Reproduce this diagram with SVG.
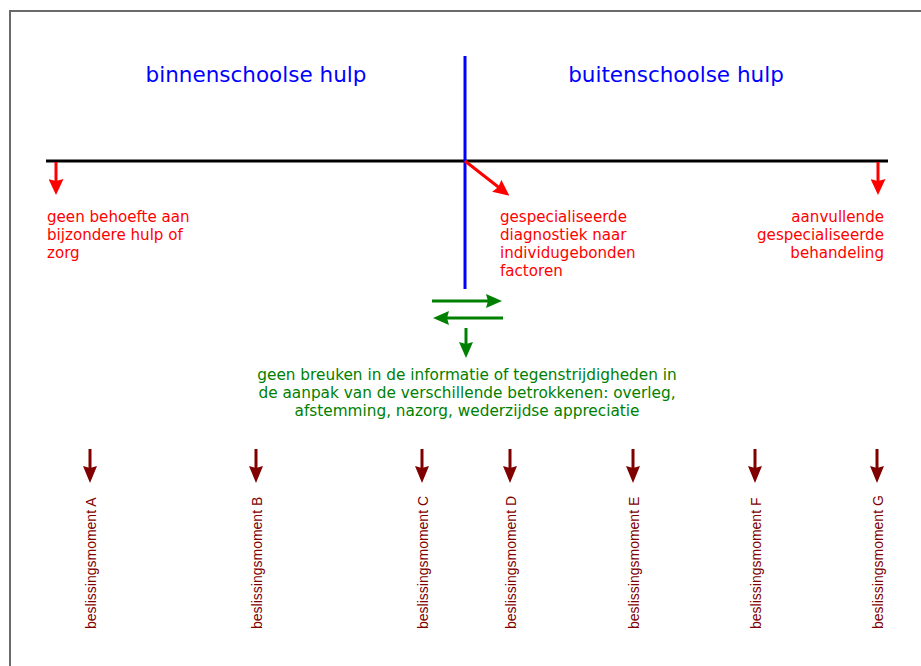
<svg xmlns="http://www.w3.org/2000/svg" width="921" height="666" viewBox="0 0 921 666">
<defs>
<style>
.title{font-family:"DejaVu Sans",Verdana,sans-serif;font-size:21.5px;fill:#0000ff;text-anchor:middle}
.red{font-family:"DejaVu Sans",Verdana,sans-serif;font-size:15.1px;fill:#ff0000}
.green{font-family:"DejaVu Sans",Verdana,sans-serif;font-size:15.3px;fill:#008000;text-anchor:middle}
.bm{font-family:"Liberation Sans",Arial,sans-serif;font-size:14px;fill:#800000}
.lr{stroke:#ff0000;stroke-width:3;fill:none}
.lg{stroke:#008000;stroke-width:3;fill:none}
.ld{stroke:#800000;stroke-width:3;fill:none}
</style>
<marker id="ar" viewBox="0 0 16 15" refX="6" refY="7.5" markerWidth="16" markerHeight="15" markerUnits="userSpaceOnUse" orient="auto"><path d="M0,0 L16,7.5 L0,15 L2,7.5 Z" fill="#ff0000"/></marker>
<marker id="ag" viewBox="0 0 16 14" refX="6" refY="7" markerWidth="16" markerHeight="14" markerUnits="userSpaceOnUse" orient="auto"><path d="M0,0 L16,7 L0,14 L2,7 Z" fill="#008000"/></marker>
<marker id="ad" viewBox="0 0 17 14" refX="7" refY="7" markerWidth="17" markerHeight="14" markerUnits="userSpaceOnUse" orient="auto"><path d="M0,0 L17,7 L0,14 L2,7 Z" fill="#800000"/></marker>
</defs>
<rect x="10" y="11" width="1000" height="1000" fill="#ffffff" stroke="#6a6a6a" stroke-width="2"/>
<g id="axes">
<line x1="46" y1="161" x2="888" y2="161" stroke="#000000" stroke-width="3"/>
<line x1="465" y1="56" x2="465" y2="289" stroke="#0000ff" stroke-width="3"/>
</g>
<g id="title-binnen"><text class="title" x="256" y="82">binnenschoolse hulp</text></g>
<g id="title-buiten"><text class="title" x="676" y="82">buitenschoolse hulp</text></g>
<g id="connectors">
<line class="lr" x1="56" y1="162" x2="56" y2="185" marker-end="url(#ar)"/>
<line class="lr" x1="465" y1="161" x2="501.5" y2="189.5" marker-end="url(#ar)"/>
<line class="lr" x1="878" y1="162" x2="878" y2="185" marker-end="url(#ar)"/>
<line class="lg" x1="432" y1="301" x2="492" y2="301" marker-end="url(#ag)"/>
<line class="lg" x1="503" y1="318" x2="443" y2="318" marker-end="url(#ag)"/>
<line class="lg" x1="466" y1="328" x2="466" y2="348" marker-end="url(#ag)"/>
<line class="ld" x1="90" y1="449" x2="90" y2="473" marker-end="url(#ad)"/>
<line class="ld" x1="256" y1="449" x2="256" y2="473" marker-end="url(#ad)"/>
<line class="ld" x1="422" y1="449" x2="422" y2="473" marker-end="url(#ad)"/>
<line class="ld" x1="510" y1="449" x2="510" y2="473" marker-end="url(#ad)"/>
<line class="ld" x1="633" y1="449" x2="633" y2="473" marker-end="url(#ad)"/>
<line class="ld" x1="755" y1="449" x2="755" y2="473" marker-end="url(#ad)"/>
<line class="ld" x1="877" y1="449" x2="877" y2="473" marker-end="url(#ad)"/>
</g>
<g id="geen-behoefte"><text class="red" x="47" y="222"><tspan x="47" y="222">geen behoefte aan</tspan><tspan x="47" y="240">bijzondere hulp of</tspan><tspan x="47" y="258">zorg</tspan></text></g>
<g id="diagnostiek"><text class="red" x="500" y="222"><tspan x="500" y="222">gespecialiseerde</tspan><tspan x="500" y="240">diagnostiek naar</tspan><tspan x="500" y="258">individugebonden</tspan><tspan x="500" y="276">factoren</tspan></text></g>
<g id="behandeling"><text class="red" x="884" y="222" text-anchor="end"><tspan x="884" y="222">aanvullende</tspan><tspan x="884" y="240">gespecialiseerde</tspan><tspan x="884" y="258">behandeling</tspan></text></g>
<g id="afstemming"><text class="green" x="467" y="380"><tspan x="467" y="380">geen breuken in de informatie of tegenstrijdigheden in</tspan><tspan x="467" y="398">de aanpak van de verschillende betrokkenen: overleg,</tspan><tspan x="467" y="416">afstemming, nazorg, wederzijdse appreciatie</tspan></text></g>
<g id="moment-A"><text class="bm" transform="translate(96,629) rotate(-90)">beslissingsmoment A</text></g>
<g id="moment-B"><text class="bm" transform="translate(262,629) rotate(-90)">beslissingsmoment B</text></g>
<g id="moment-C"><text class="bm" transform="translate(428,629) rotate(-90)">beslissingsmoment C</text></g>
<g id="moment-D"><text class="bm" transform="translate(516,629) rotate(-90)">beslissingsmoment D</text></g>
<g id="moment-E"><text class="bm" transform="translate(639,629) rotate(-90)">beslissingsmoment E</text></g>
<g id="moment-F"><text class="bm" transform="translate(761,629) rotate(-90)">beslissingsmoment F</text></g>
<g id="moment-G"><text class="bm" transform="translate(883,629) rotate(-90)">beslissingsmoment G</text></g>
</svg>
